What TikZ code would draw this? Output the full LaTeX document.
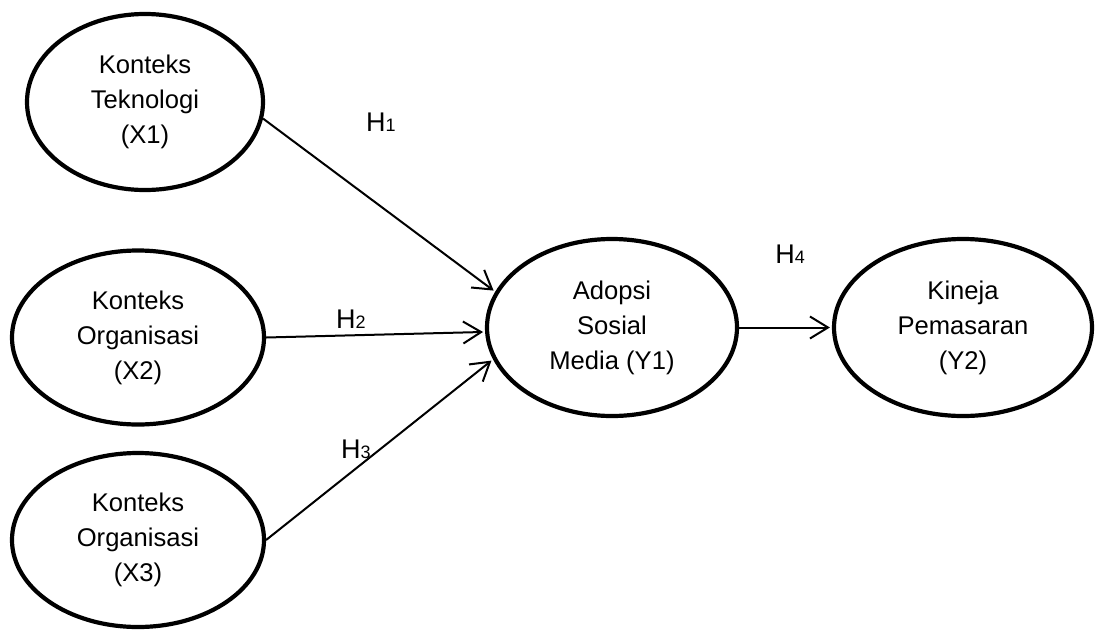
\documentclass[tikz,border=0pt]{standalone}
\usepackage{fontspec}
\setmainfont{Liberation Sans}
\usetikzlibrary{
        arrows.meta,
        positioning,
        shapes.geometric
    }
\tikzset{>={Straight Barb[length=9pt,width=11pt]},shorten >=1pt,auto}
\tikzset{latent/.style={ellipse,draw,line width=2.1pt,inner sep=0pt,align=center,
        font=\fontsize{12.8}{17.5}\selectfont}}
\tikzset{hyp/.style={font=\fontsize{13.5}{16}\selectfont}}

\begin{document}
\begin{tikzpicture}[x=0.5pt,y=-0.5pt]
                \useasboundingbox (0,0) rectangle (1098,632);
                \node[latent,minimum width=118pt,minimum height=88pt] (x1) at (145,102) {Konteks\\Teknologi\\(X1)};
                \node[latent,minimum width=126pt,minimum height=87pt] (x2) at (138,337.5) {Konteks\\Organisasi\\(X2)};
                \node[latent,minimum width=126pt,minimum height=87pt] (x3) at (138,540) {Konteks\\Organisasi\\(X3)};
                \node[latent,minimum width=125pt,minimum height=88.5pt] (y1) at (612,327.5) {Adopsi\\Sosial\\Media (Y1)};
                \node[latent,minimum width=129pt,minimum height=88.5pt] (y2) at (963,327.5) {Kineja\\Pemasaran\\(Y2)};
            \path[->,line width=1pt]
                    (x1.-8)  edge (y1.163)
                    (x2.east) edge (y1.182)
                    (x3.east) edge (y1.195)
                    (y1.east) edge (y2.west);
                \node[hyp] (h1) at (381,122) {H{\fontsize{9}{9}\selectfont 1}};
                \node[hyp] (h2) at (351,319) {H{\fontsize{9}{9}\selectfont 2}};
                \node[hyp] (h3) at (356,449) {H{\fontsize{9}{9}\selectfont 3}};
                \node[hyp] (h4) at (790,254) {H{\fontsize{9}{9}\selectfont 4}};
            \end{tikzpicture}
\end{document}
